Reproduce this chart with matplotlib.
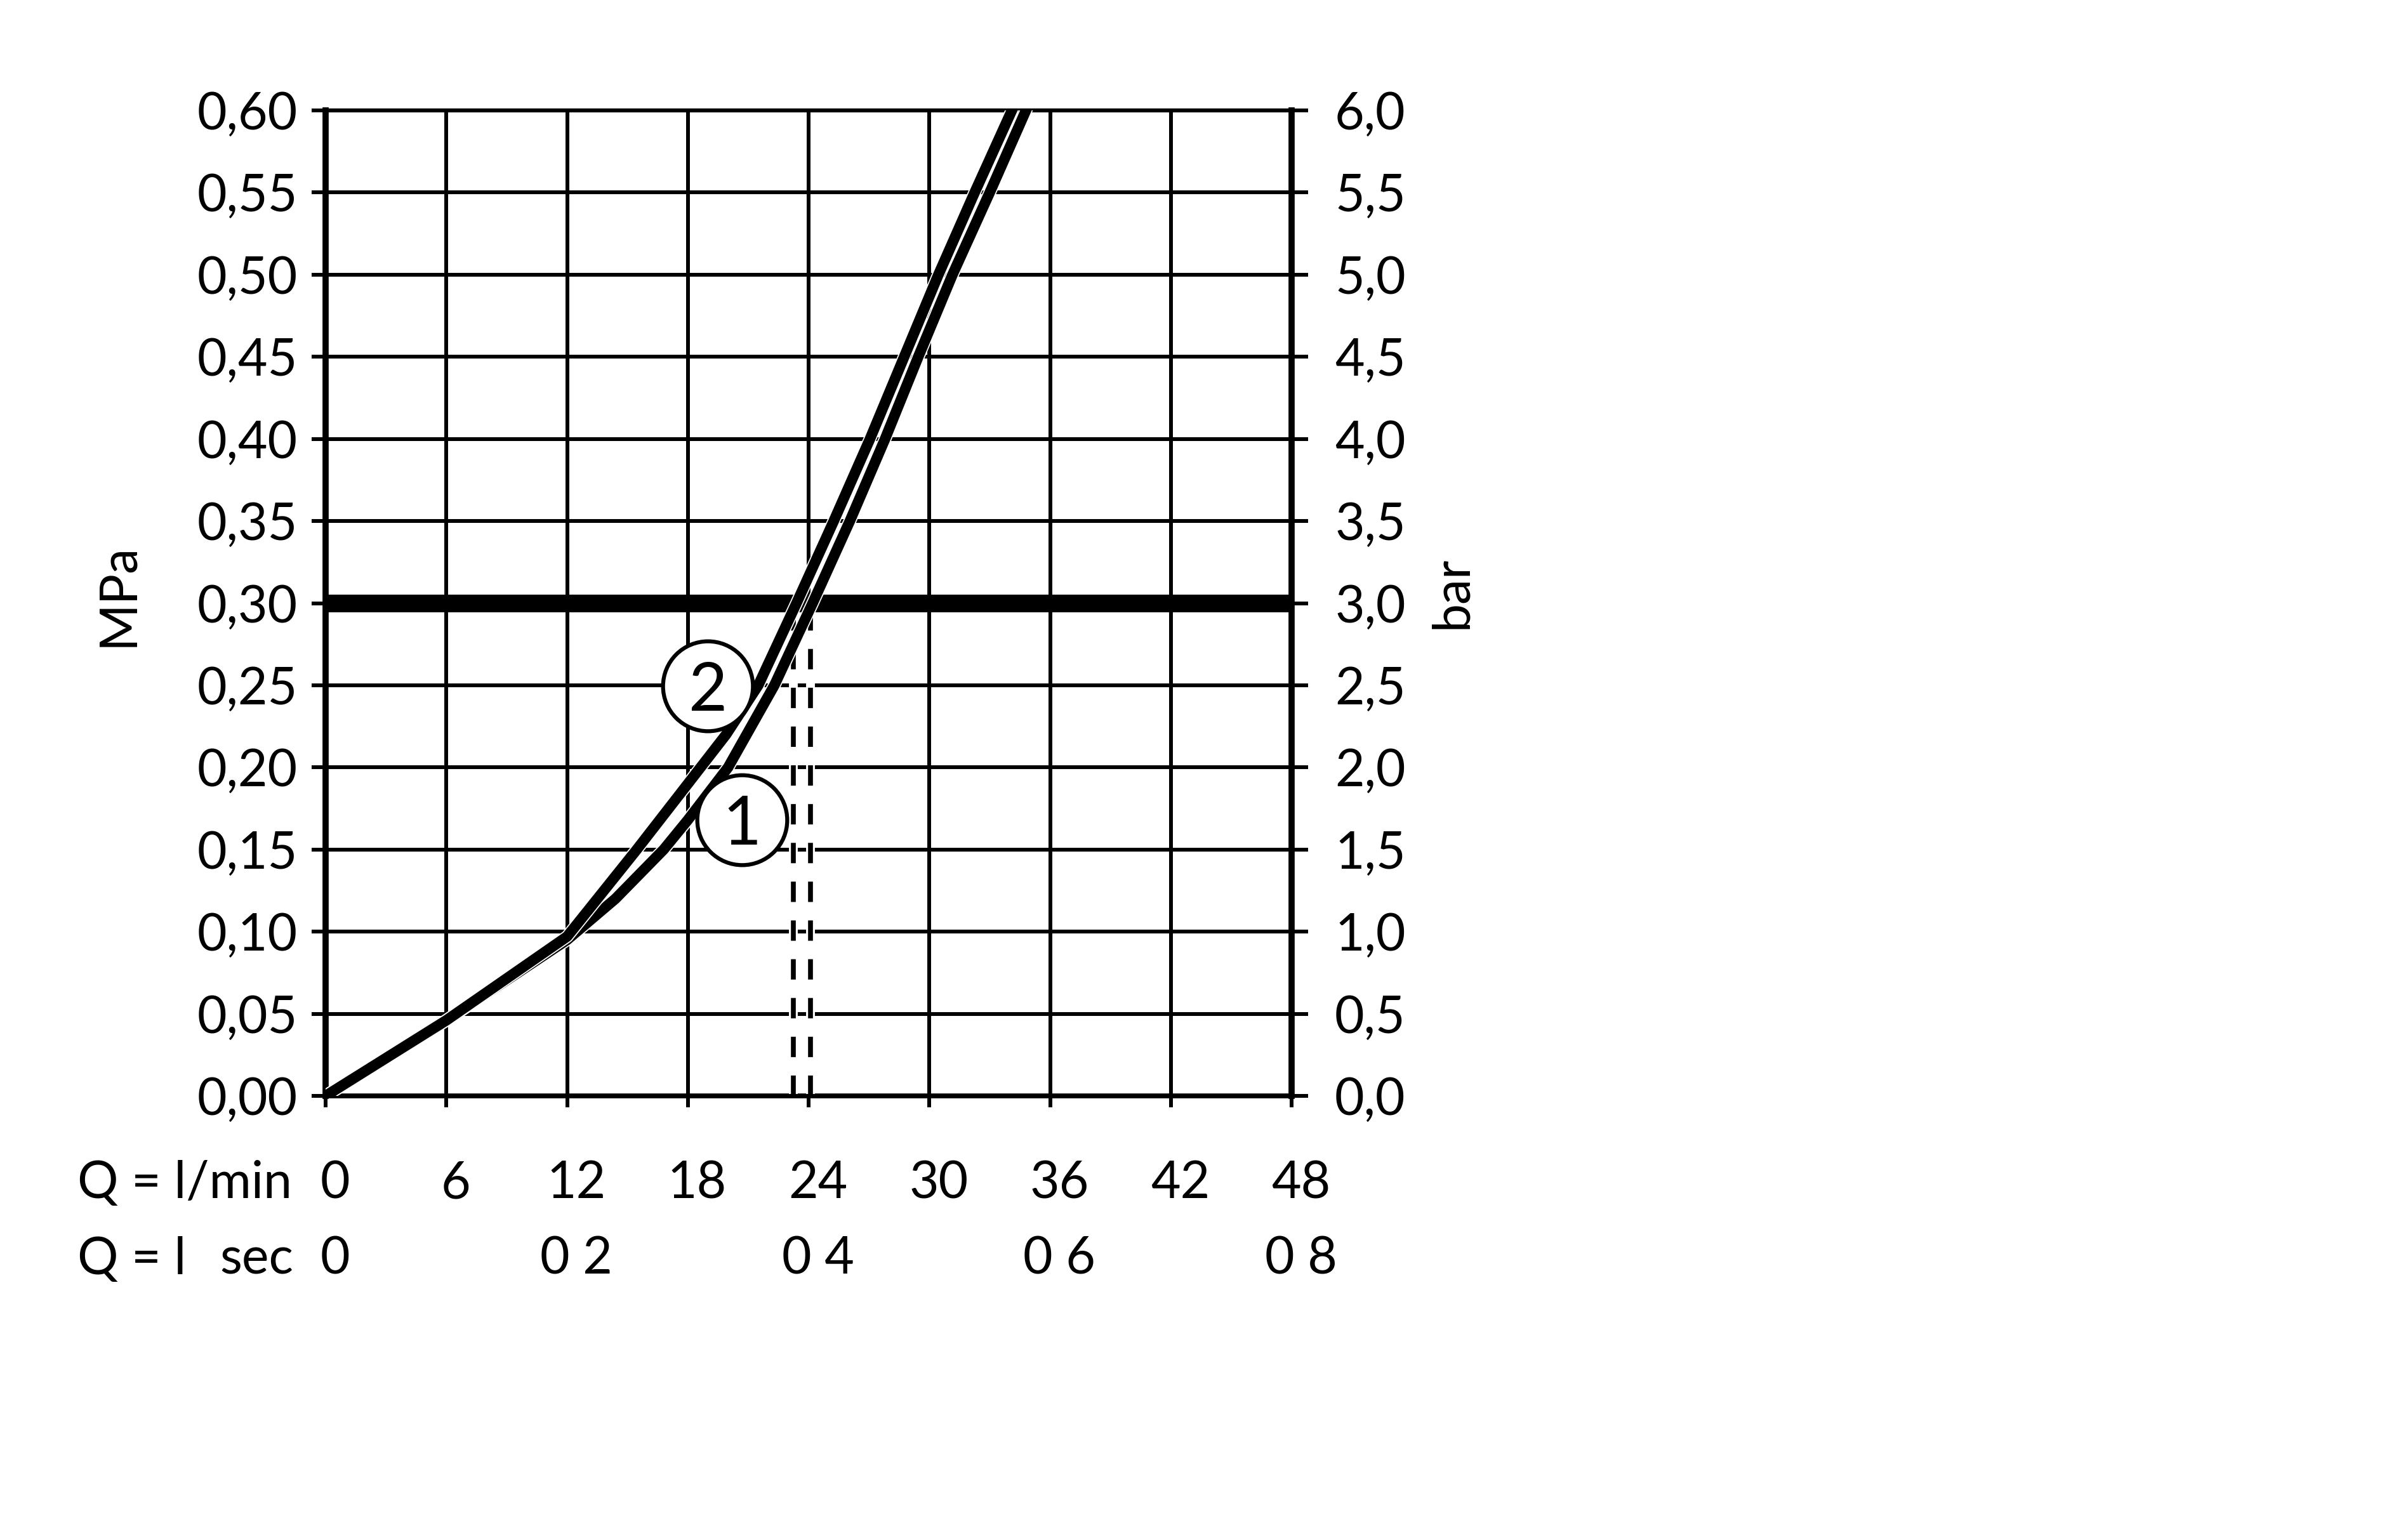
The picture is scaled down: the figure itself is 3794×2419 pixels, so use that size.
import matplotlib
matplotlib.use('Agg')
import matplotlib.pyplot as plt
import matplotlib.patheffects as pe
from matplotlib.transforms import ScaledTranslation, blended_transform_factory

plt.rcParams['font.family'] = ['Lato', 'DejaVu Sans']

# x axis: flow in l/min, second row in l/sec (placed on the l/min scale)
q_lmin_ticks = [0, 6, 12, 18, 24, 30, 36, 42, 48]
q_lsec_pos = [0, 12, 24, 36, 48]
q_lsec_labels = ['0', '0 2', '0 4', '0 6', '0 8']

# y axes: pressure in MPa (left) and bar (right)
mpa_ticks = [0.00, 0.05, 0.10, 0.15, 0.20, 0.25, 0.30, 0.35, 0.40, 0.45, 0.50, 0.55, 0.60]
bar_ticks = [0.0, 0.5, 1.0, 1.5, 2.0, 2.5, 3.0, 3.5, 4.0, 4.5, 5.0, 5.5, 6.0]

# curve 1
curve1_q = [0, 6, 12, 14.4, 16.8, 18.0, 20.0, 22.3, 24.2, 26.05, 27.8, 29.45, 31.15, 33.0, 34.8]
curve1_p = [0, 0.046, 0.095, 0.12, 0.15, 0.168, 0.20, 0.25, 0.30, 0.35, 0.40, 0.45, 0.50, 0.55, 0.60]

# curve 2
curve2_q = [0, 6, 12, 13.7, 15.4, 18.0, 19.9, 21.5, 23.4, 25.25, 27.05, 28.75, 30.45, 32.25, 34.1]
curve2_p = [0, 0.046, 0.097, 0.123, 0.149, 0.19, 0.22, 0.25, 0.30, 0.35, 0.40, 0.45, 0.50, 0.55, 0.60]

# operating pressure line and flow read-offs
limit_p = 0.30
drop_q = [23.25, 24.1]

# circled curve labels
label_names = ['1', '2']
label_q = [20.7, 19.0]
label_p = [0.168, 0.2495]

W, H = 3794, 2419
fig = plt.figure(figsize=(W / 100, H / 100), dpi=100)
ax = fig.add_axes([513 / W, 1 - 1727 / H, 1522 / W, 1553 / H])
ax.set_xlim(0, 48)
ax.set_ylim(0, 0.6)

# grid
ax.set_axisbelow(True)
ax.set_xticks(q_lmin_ticks)
ax.set_xticklabels([])
ax.set_yticks(mpa_ticks)
ax.set_yticklabels([f"{v:.2f}".replace('.', ',') for v in mpa_ticks])
ax.grid(True, color='black', lw=4.3)

for side, lw in [('left', 7), ('right', 7), ('top', 4.5), ('bottom', 5.5)]:
    ax.spines[side].set_linewidth(lw)
    ax.spines[side].set_color('black')

ax.tick_params(axis='y', direction='out', length=16, width=4.3, pad=16, labelsize=58)
ax.tick_params(axis='x', direction='out', length=13, width=4.3)

# right axis in bar
ax2 = ax.twinx()
ax2.set_ylim(0, 6)
ax2.set_yticks(bar_ticks)
ax2.set_yticklabels([f"{v:.1f}".replace('.', ',') for v in bar_ticks])
ax2.tick_params(axis='y', direction='out', length=19, width=4.3, pad=30, labelsize=58)
for s in ax2.spines.values():
    s.set_visible(False)

# dashed drop lines under the pressure line
for q in drop_q:
    ax.plot([q, q], [0.004, limit_p - 0.01], color='white', lw=10, zorder=3)
    ax.plot([q, q], [0, limit_p], color='black', lw=5.5, dashes=(4.2, 3.8), zorder=3.1)

ax.axhline(limit_p, color='black', lw=20, zorder=4)

# curves
halo = [pe.Stroke(linewidth=14.5, foreground='white'), pe.Normal()]
ax.plot(curve1_q, curve1_p, color='black', lw=12, zorder=5,
        solid_joinstyle='round', path_effects=halo)
ax.plot(curve2_q, curve2_p, color='black', lw=12, zorder=5.1,
        solid_joinstyle='round', path_effects=halo)

# circled labels
down = ScaledTranslation(0, -0.385, fig.dpi_scale_trans)
for name, q, p in zip(label_names, label_q, label_p):
    ax.plot(q, p, 'o', ms=102, mfc='white', mec='black', mew=4.5, zorder=6)
    ax.text(q, p, name, transform=ax.transData + down, ha='center', va='baseline',
            fontsize=76, zorder=7)

# x labels, two rows
shift = ScaledTranslation(0.145, 0, fig.dpi_scale_trans)
trans = blended_transform_factory(ax.transData, ax.transAxes) + shift
for q in q_lmin_ticks:
    ax.text(q, -0.1037, str(q), transform=trans, ha='center', va='baseline',
            fontsize=58, clip_on=False)
for q, lab in zip(q_lsec_pos, q_lsec_labels):
    ax.text(q, -0.1809, lab, transform=trans, ha='center', va='baseline',
            fontsize=58, clip_on=False)

fig.text(122 / W, 1 - 1888 / H, 'Q = l/min', ha='left', va='baseline', fontsize=58)
fig.text(122 / W, 1 - 2008 / H, 'Q = l', ha='left', va='baseline', fontsize=58)
fig.text(462 / W, 1 - 2008 / H, 'sec', ha='right', va='baseline', fontsize=58)

fig.text(186 / W, 1 - 937 / H, 'MPa', rotation=90, ha='center', va='center', fontsize=58)
fig.text(2288 / W, 1 - 934 / H, 'bar', rotation=90, ha='center', va='center', fontsize=58)

fig.savefig('out.png', dpi=100, facecolor='white')
